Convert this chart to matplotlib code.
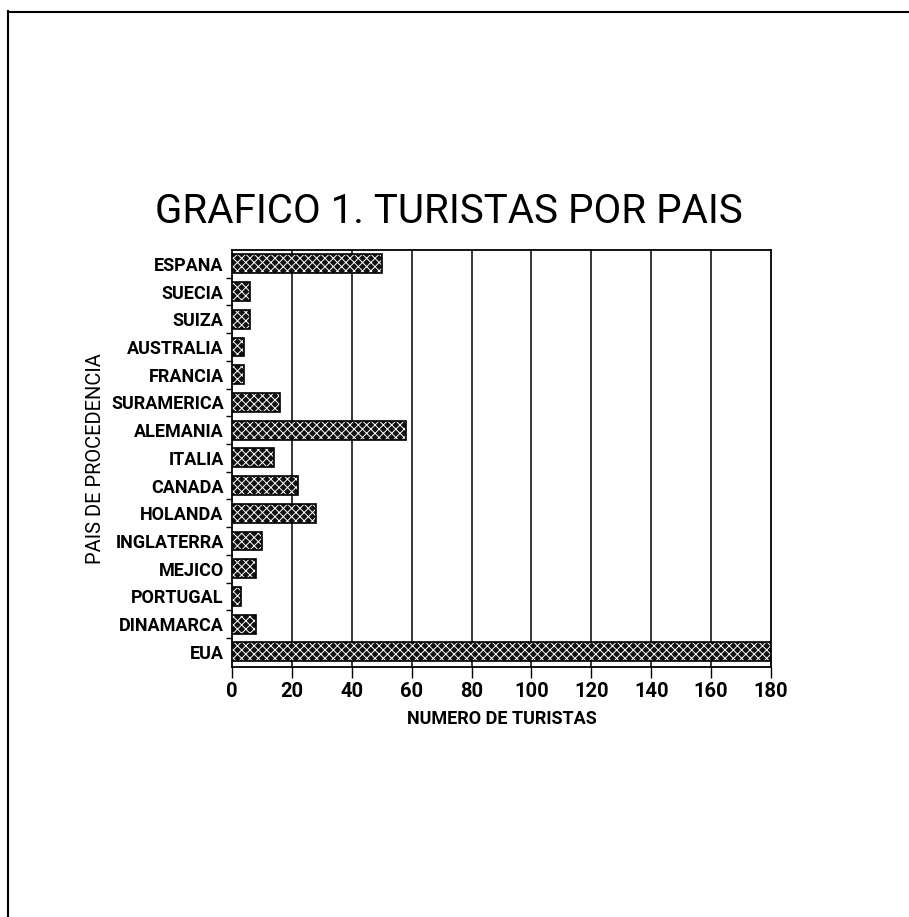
import numpy as np
import matplotlib.pyplot as plt
from matplotlib.lines import Line2D

# categories listed bottom to top, as drawn
paises = ['EUA', 'DINAMARCA', 'PORTUGAL', 'MEJICO', 'INGLATERRA', 'HOLANDA',
          'CANADA', 'ITALIA', 'ALEMANIA', 'SURAMERICA', 'FRANCIA', 'AUSTRALIA',
          'SUIZA', 'SUECIA', 'ESPANA']
turistas = [180, 8, 3, 8, 10, 28, 22, 14, 58, 16, 4, 4, 6, 6, 50]
xticks = [0, 20, 40, 60, 80, 100, 120, 140, 160, 180]

plt.rcParams['font.family'] = ['Roboto', 'DejaVu Sans']
plt.rcParams['hatch.linewidth'] = 0.7

fig = plt.figure(figsize=(9.09, 9.17), dpi=100)
ax = fig.add_axes([0.2552, 0.2726, 0.593, 0.4547])

y = np.arange(len(paises))
ax.barh(y, turistas, height=0.68, color='#111111', zorder=2)
ax.barh(y, turistas, height=0.68, color='none', edgecolor='white',
        hatch='xxxx', linewidth=0, zorder=3)
ax.barh(y, turistas, height=0.68, color='none', edgecolor='black',
        linewidth=1.2, zorder=4)

ax.set_xlim(0, 180)
ax.set_ylim(-0.55, len(paises) - 0.5)
ax.set_xticks(xticks)
ax.set_xticklabels([str(t) for t in xticks], fontsize=14.5, fontweight='bold')
ax.set_yticks(y)
ax.set_yticklabels(paises, fontsize=13, fontweight='bold')
ax.set_yticks(y[:-1] + 0.5, minor=True)
ax.tick_params(axis='y', which='major', length=0, pad=6)
ax.tick_params(axis='y', which='minor', length=4, width=1, direction='out')
ax.tick_params(axis='x', length=8, width=1, direction='out', pad=3)

for t in xticks[1:-1]:
    ax.axvline(t, color='black', linewidth=1.1, zorder=1)

for s in ax.spines.values():
    s.set_linewidth(1.3)

ax.set_xlabel('NUMERO DE TURISTAS', fontsize=13, fontweight='bold', labelpad=6)
ax.set_ylabel('PAIS DE PROCEDENCIA', fontsize=14.5, labelpad=4)
fig.text(0.494, 0.757, 'GRAFICO 1. TURISTAS POR PAIS', fontsize=29,
         ha='center', va='baseline')

# page border from the scan
fig.add_artist(Line2D([0.009, 0.009], [0.0, 0.988], color='black', linewidth=1.5))
fig.add_artist(Line2D([0.009, 1.0], [0.987, 0.987], color='black', linewidth=1.5))

fig.savefig('out.png', dpi=100)
